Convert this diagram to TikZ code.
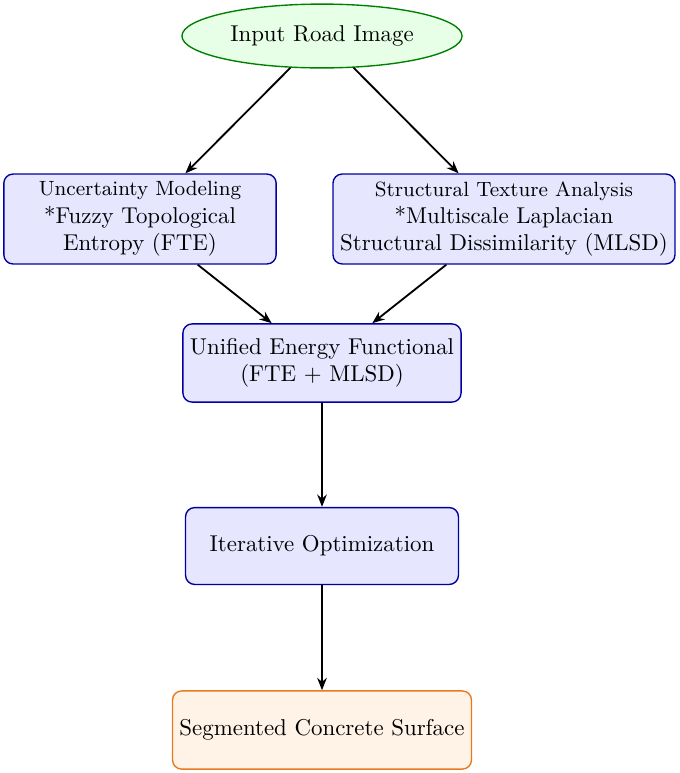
\documentclass[tikz,border=0pt]{standalone}
\usetikzlibrary{arrows.meta,shapes.geometric}
\definecolor{procfill}{HTML}{E6E6FF}
\definecolor{procdraw}{HTML}{0000A0}
\definecolor{startfill}{HTML}{E6FFE6}
\definecolor{startdraw}{HTML}{008000}
\definecolor{endfill}{HTML}{FFF2E6}
\definecolor{enddraw}{HTML}{E87A1E}

\begin{document}
\begin{tikzpicture}[
  x=0.01535cm,
  y=-0.01535cm,
  startnode/.style={ellipse,draw=startdraw,fill=startfill,semithick,
    minimum width=4.30cm,minimum height=0.98cm,inner sep=0pt},
  procbox/.style={rectangle,rounded corners=4pt,draw=procdraw,fill=procfill,
    semithick,align=center,inner sep=2pt},
  endbox/.style={rectangle,rounded corners=4pt,draw=enddraw,fill=endfill,
    semithick,align=center,inner sep=2pt},
  arrow/.style={draw=black,thick,-{Stealth[length=5.4pt,width=4.2pt]}}
]
  % Match the artwork frame.
  \useasboundingbox (0,0) rectangle (679,773);

  % Input at the top.
  \node[startnode] (input) at (322,36) {Input Road Image};

  % Two parallel analysis branches.
  \node[procbox,minimum width=4.18cm,minimum height=1.38cm] (fte) at (140,219)
    {{\small Uncertainty Modeling}\\*Fuzzy Topological\\Entropy (FTE)};
  \node[procbox,minimum width=5.25cm,minimum height=1.38cm] (mlsd) at (504,219)
    {{\small Structural Texture Analysis}\\*Multiscale Laplacian\\Structural Dissimilarity (MLSD)};

  % Combination and optimization steps.
  \node[procbox,minimum width=4.27cm,minimum height=1.20cm] (energy) at (322,363)
    {Unified Energy Functional\\(FTE + MLSD)};
  \node[procbox,minimum width=4.19cm,minimum height=1.18cm] (optim) at (322,546)
    {Iterative Optimization};

  % Output at the bottom.
  \node[endbox,minimum width=4.59cm,minimum height=1.20cm] (output) at (322,730)
    {Segmented Concrete Surface};

  % Flow between the stages.
  \draw[arrow] (input) -- (fte);
  \draw[arrow] (input) -- (mlsd);
  \draw[arrow] (fte) -- (energy);
  \draw[arrow] (mlsd) -- (energy);
  \draw[arrow] (energy) -- (optim);
  \draw[arrow] (optim) -- (output);
\end{tikzpicture}
\end{document}
